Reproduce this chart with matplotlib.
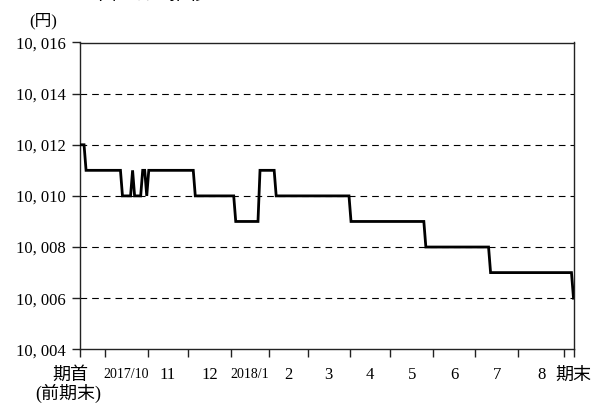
import numpy as np
from matplotlib import pyplot as plt
from matplotlib import transforms

# Daily NAV (yen), stored as runs: value, number of business days at that value.
run_values = [10012, 10011, 10010, 10011, 10010, 10011, 10010, 10011,
              10010, 10009, 10011, 10010, 10009, 10008, 10007, 10006]
run_days   = [3, 18, 5, 1, 4, 2, 1, 23, 20, 12, 8, 37, 37, 32, 41, 1]

# Business days in each month after the start point (Sep 2017 .. Sep 2018).
month_days = [12, 21, 20, 21, 19, 19, 21, 20, 21, 21, 21, 23, 5]
month_labels = ["2017/10", "11", "12", "2018/1", "2", "3", "4", "5", "6", "7", "8"]

y_ticks = [10004, 10006, 10008, 10010, 10012, 10014, 10016]

SERIF = ["Liberation Serif", "Noto Sans CJK JP"]
CJK = ["Noto Sans CJK JP", "DejaVu Sans"]

nav = np.repeat(run_values, run_days)
days = np.arange(len(nav))
n_end = days[-1]

bounds = np.cumsum(month_days)[:-1] + 0.5
mids = (bounds[:-1] + bounds[1:]) / 2

fig = plt.figure(figsize=(5.94, 4.03), dpi=100)
ax = fig.add_axes([80 / 594, 1 - 349.3 / 403, 493.5 / 594, 306.8 / 403])

ax.plot(days, nav, color="black", lw=2.0, solid_joinstyle="miter", zorder=3)

ax.set_xlim(0, n_end)
ax.set_ylim(y_ticks[0], y_ticks[-1])
ax.set_yticks(y_ticks)
ax.set_yticklabels([f"{v // 1000}, {v % 1000:03d}" for v in y_ticks],
                   family=SERIF, fontsize=12)
ax.set_xticks([0] + list(bounds) + [n_end])
ax.set_xticklabels([])
ax.tick_params(axis="both", direction="out", length=6, width=1.0,
               color="#222222", pad=4)

for v in y_ticks[1:-1]:
    ax.axhline(v, color="black", lw=0.8, linestyle=(0, (6, 4.5)), zorder=1)

for s in ax.spines.values():
    s.set_color("#222222")
    s.set_linewidth(1.0)

lab_tr = transforms.blended_transform_factory(ax.transData, fig.transFigure)
y_lab = 1 - 375 / 403
for x, lbl in zip(mids, month_labels):
    size = 10 if "/" in lbl else 12
    ax.text(x, y_lab, lbl, transform=lab_tr, ha="center", va="center",
            family=SERIF, fontsize=size)

ax.text(0, y_lab, "期首", ha="center", va="center", family=CJK, fontsize=13,
        transform=lab_tr + transforms.ScaledTranslation(-0.10, 0, fig.dpi_scale_trans))
ax.text(0, 1 - 393 / 403, "(前期末)", ha="center", va="center", family=SERIF,
        fontsize=13,
        transform=lab_tr + transforms.ScaledTranslation(-0.12, 0, fig.dpi_scale_trans))
ax.text(n_end, y_lab, "期末", transform=lab_tr, ha="center", va="center",
        family=CJK, fontsize=13)

fig.text(43 / 594, 1 - 21 / 403, "(円)", ha="center", va="center",
         family=SERIF, fontsize=12)
fig.text(52 / 594, 1 + 1 / 403, "■基準価額の推移", ha="left", va="baseline",
         family=CJK, fontsize=14)

fig.savefig("out.png", dpi=100)
